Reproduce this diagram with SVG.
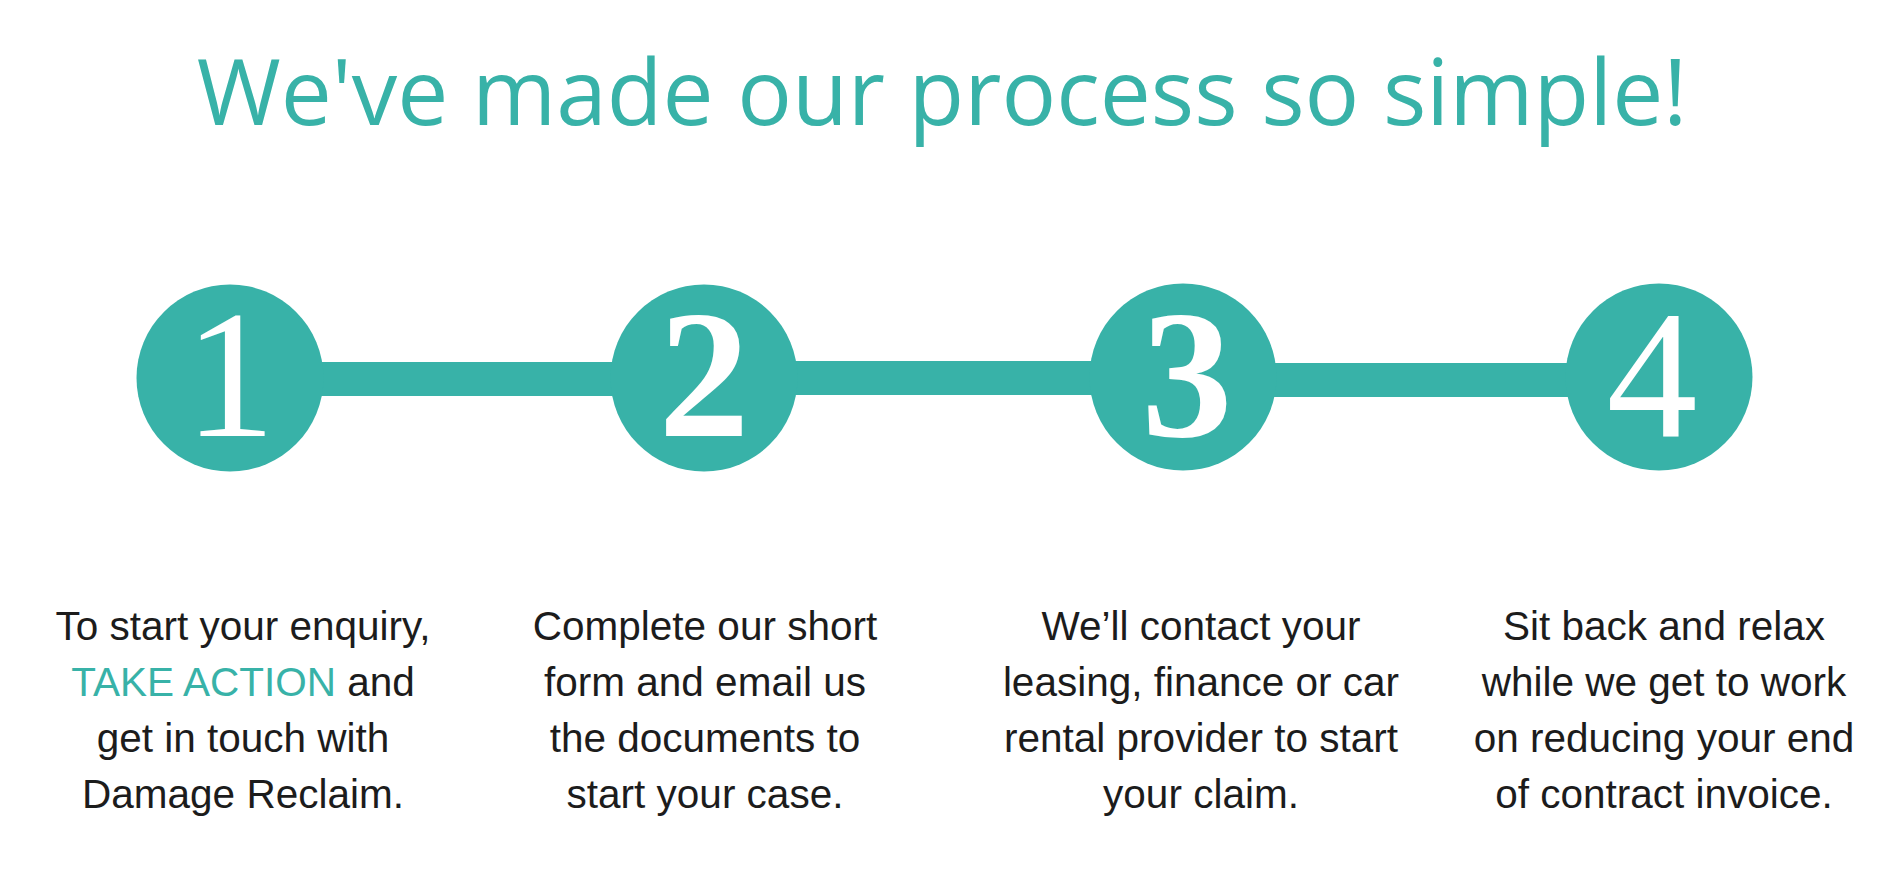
<svg xmlns="http://www.w3.org/2000/svg" width="1881" height="875" viewBox="0 0 1881 875">
  <style>
    .title { font-family: "Open Sans", "Liberation Sans", sans-serif; font-size: 91px; fill: #38b2a8; }
    .num { font-family: "Liberation Serif", "DejaVu Serif", serif; font-size: 182px; fill: #ffffff; text-anchor: middle; }
    .heavy { font-weight: bold; }
    .body { font-family: "Liberation Sans", Arial, sans-serif; font-size: 40.5px; fill: #1c1c1c; text-anchor: middle; }
    .hl { fill: #38b2a8; }
    .bar { fill: #38b2a8; }
    .dot { fill: #38b2a8; }
  </style>
  <rect width="1881" height="875" fill="#ffffff"/>
  <text class="title" x="942" y="125" text-anchor="middle">We've made our process so simple!</text>
  <g id="connectors">
    <rect class="bar" x="230" y="362" width="474" height="34"/>
    <rect class="bar" x="704" y="361" width="479" height="34"/>
    <rect class="bar" x="1183" y="363" width="476" height="34"/>
  </g>
  <g id="step1">
    <circle class="dot" cx="230" cy="378" r="93.5"/>
    <text class="num" x="230" y="436">1</text>
    <text class="body" x="243" y="640">To start your enquiry,</text>
    <text class="body" x="243" y="696"><tspan class="hl">TAKE ACTION</tspan> and</text>
    <text class="body" x="243" y="752">get in touch with</text>
    <text class="body" x="243" y="808">Damage Reclaim.</text>
  </g>
  <g id="step2">
    <circle class="dot" cx="704" cy="378" r="93.5"/>
    <text class="num heavy" x="704" y="436">2</text>
    <text class="body" x="705" y="640">Complete our short</text>
    <text class="body" x="705" y="696">form and email us</text>
    <text class="body" x="705" y="752">the documents to</text>
    <text class="body" x="705" y="808">start your case.</text>
  </g>
  <g id="step3">
    <circle class="dot" cx="1183" cy="377" r="93.5"/>
    <text class="num heavy" x="1187" y="436">3</text>
    <text class="body" x="1201" y="640">We’ll contact your</text>
    <text class="body" x="1201" y="696">leasing, finance or car</text>
    <text class="body" x="1201" y="752">rental provider to start</text>
    <text class="body" x="1201" y="808">your claim.</text>
  </g>
  <g id="step4">
    <circle class="dot" cx="1659" cy="377" r="93.5"/>
    <text class="num" x="1652" y="436">4</text>
    <text class="body" x="1664" y="640">Sit back and relax</text>
    <text class="body" x="1664" y="696">while we get to work</text>
    <text class="body" x="1664" y="752">on reducing your end</text>
    <text class="body" x="1664" y="808">of contract invoice.</text>
  </g>
</svg>
